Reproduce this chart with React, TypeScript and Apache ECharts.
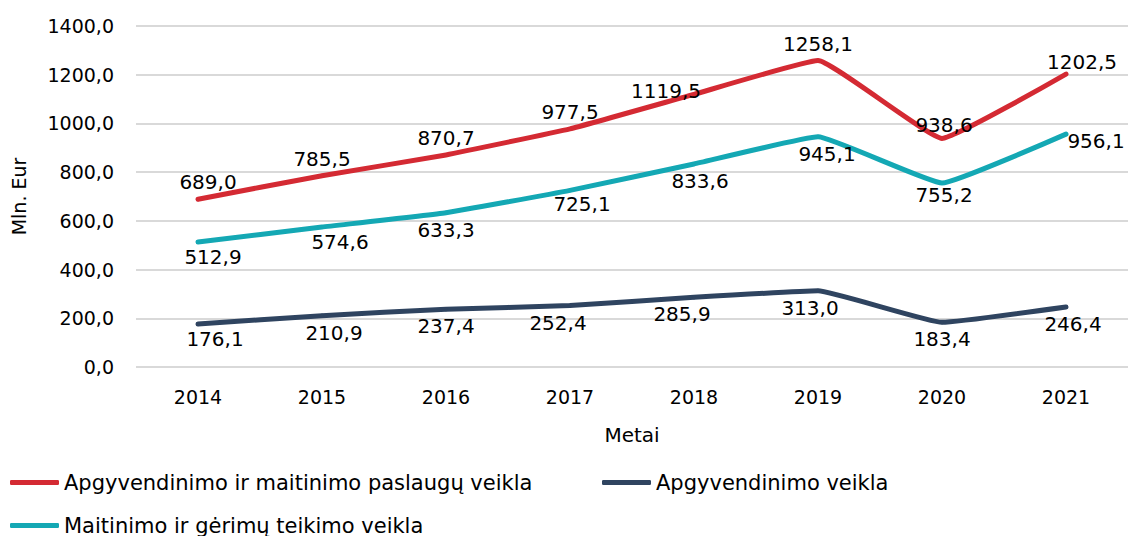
import React, { useEffect, useRef } from "react";
import * as echarts from "echarts";

const years = ["2014", "2015", "2016", "2017", "2018", "2019", "2020", "2021"];
const totalName = "Apgyvendinimo ir maitinimo paslaugų veikla";
const accomName = "Apgyvendinimo veikla";
const foodName = "Maitinimo ir gėrimų teikimo veikla";
const totalValues = [689.0, 785.5, 870.7, 977.5, 1119.5, 1258.1, 938.6, 1202.5];
const accomValues = [176.1, 210.9, 237.4, 252.4, 285.9, 313.0, 183.4, 246.4];
const foodValues = [512.9, 574.6, 633.3, 725.1, 833.6, 945.1, 755.2, 956.1];

const FONT = "DejaVu Sans";
const fmt = (v: number) => v.toFixed(1).replace(".", ",");

export default function App() {
  const ref = useRef<HTMLDivElement>(null);
  useEffect(() => {
    if (!ref.current) return;
    const chart = echarts.init(ref.current, undefined, { renderer: "svg" });
    const lbl = (pos: string, dist: number) => ({
      show: true,
      position: pos,
      distance: dist,
      fontFamily: FONT,
      fontSize: 20,
      color: "#000",
      formatter: (p: any) => fmt(p.value),
    });
    const mkData = (vals: number[], offsets: Record<number, [number, number]>) =>
      vals.map((v, i) =>
        offsets[i] ? { value: v, label: { offset: offsets[i] } } : { value: v }
      );
    const legendCommon = {
      itemWidth: 49,
      itemHeight: 5,
      icon: "roundRect",
      itemGap: 4,
      textStyle: { fontFamily: FONT, fontSize: 21, color: "#000" },
    };
    const mkSeries = (name: string, data: any[], color: string, pos: string) => ({
      type: "line",
      name,
      data,
      smooth: 0.1,
      symbol: "circle",
      symbolSize: 4,
      showSymbol: true,
      color,
      itemStyle: { color, borderWidth: 0 },
      lineStyle: { width: 5, color, cap: "round", join: "round" },
      emphasis: { disabled: true },
      label: lbl(pos, 5),
    });
    chart.setOption({
      animation: false,
      grid: { left: 136, right: 1, top: 26, bottom: 169, containLabel: false },
      xAxis: {
        type: "category",
        data: years,
        boundaryGap: true,
        name: "Metai",
        nameLocation: "middle",
        nameGap: 58,
        nameTextStyle: { fontFamily: FONT, fontSize: 20, color: "#000" },
        axisLine: { show: false },
        axisTick: { show: false },
        axisLabel: { fontFamily: FONT, fontSize: 19, color: "#000", margin: 20 },
      },
      yAxis: {
        type: "value",
        min: 0,
        max: 1400,
        interval: 200,
        name: "Mln. Eur",
        nameLocation: "middle",
        nameGap: 108,
        nameTextStyle: { fontFamily: FONT, fontSize: 19, color: "#000" },
        axisLabel: {
          fontFamily: FONT,
          fontSize: 19,
          color: "#000",
          margin: 22,
          formatter: (v: number) => fmt(v),
        },
        splitLine: { lineStyle: { color: "#D9D9D9", width: 2 } },
      },
      legend: [
        { ...legendCommon, data: [totalName], left: 5, top: 467 },
        { ...legendCommon, data: [accomName], left: 597, top: 467 },
        { ...legendCommon, data: [foodName], left: 5, top: 510 },
      ],
      series: [
        mkSeries(
          totalName,
          mkData(totalValues, { 0: [10, 0], 4: [-28, 14], 6: [2, 4], 7: [16, 5] }),
          "#D42A33",
          "top"
        ),
        mkSeries(
          accomName,
          mkData(accomValues, { 0: [17, -2], 1: [12, 0], 3: [-12, 0], 4: [-12, 0], 5: [-8, 0], 7: [7, 0] }),
          "#2F4460",
          "bottom"
        ),
        mkSeries(
          foodName,
          mkData(foodValues, { 0: [15, -2], 1: [18, -2], 3: [12, -3], 4: [6, 0], 5: [9, 0], 6: [2, -5], 7: [30, -10] }),
          "#14A8B4",
          "bottom"
        ),
      ],
    });
    return () => chart.dispose();
  }, []);
  return (
    <div
      ref={ref}
      style={{ position: "absolute", left: 0, top: 0, width: 1129, height: 536, background: "#fff" }}
    />
  );
}
